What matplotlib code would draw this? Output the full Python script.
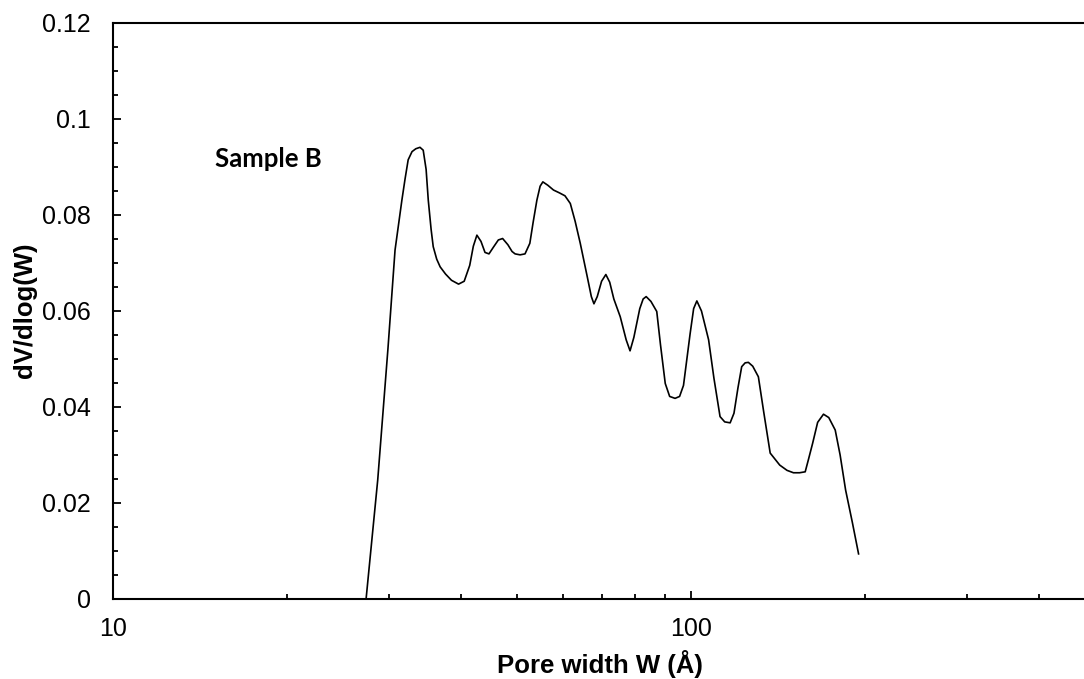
import matplotlib
matplotlib.use("Agg")
import matplotlib.pyplot as plt
from matplotlib.ticker import LogLocator, MultipleLocator, FuncFormatter, NullFormatter

# pore width (Angstrom) and dV/dlog(W)
pore_width = [13.7, 20.0, 25.0, 27.4, 28.7, 29.9, 30.75, 31.6, 32.0, 32.4, 32.9, 33.4, 33.96,
              34.4, 34.8, 35.1, 35.5, 35.8, 36.3, 36.8, 37.6, 38.5, 39.6, 40.5, 41.4,
              42.0, 42.6, 43.3, 44.0, 44.7, 45.5, 46.4, 47.2, 48.2, 49.0, 49.6, 50.6,
              51.6, 52.6, 53.3, 54.1, 54.8, 55.4, 56.5, 57.8, 59.2, 60.5, 61.8, 63.0,
              64.3, 66.1, 67.2, 67.9, 68.8, 70.0, 71.2, 72.3, 73.5, 75.4, 77.2, 78.4,
              79.6, 81.5, 82.6, 83.6, 85.2, 87.2, 88.5, 90.2, 91.8, 93.8, 95.5, 97.0,
              99.6, 101.0, 102.3, 104.2, 107.2, 109.5, 112.2, 114.3, 116.8, 118.6, 120.5,
              122.3, 124.0, 125.6, 127.8, 130.7, 133.5, 137.0, 142.3, 146.5, 150.3, 154.0,
              157.5, 159.5, 162.2, 165.5, 169.4, 173.0, 177.5, 181.0, 185.0, 190.0, 194.8]
dv_dlogw = [0.0, 0.0, 0.0, 0.0, 0.0248, 0.0523, 0.0727, 0.0831, 0.0875, 0.0915, 0.0932, 0.0938, 0.0941,
            0.0935, 0.0895, 0.0831, 0.0770, 0.0734, 0.0708, 0.0692, 0.0677, 0.0664, 0.0656, 0.0662, 0.0695,
            0.0735, 0.0758, 0.0745, 0.0722, 0.0719, 0.0733, 0.0748, 0.0751, 0.0738, 0.0724, 0.0719, 0.0717,
            0.0719, 0.0741, 0.0785, 0.0831, 0.0860, 0.0869, 0.0862, 0.0852, 0.0846, 0.0840, 0.0824, 0.0787,
            0.0741, 0.0672, 0.0630, 0.0615, 0.0630, 0.0662, 0.0676, 0.0660, 0.0625, 0.0588, 0.0540, 0.0517,
            0.0545, 0.0605, 0.0625, 0.0630, 0.0620, 0.0599, 0.0530, 0.0449, 0.0422, 0.0418, 0.0422, 0.0445,
            0.0553, 0.0605, 0.0621, 0.0600, 0.0540, 0.0460, 0.0380, 0.0369, 0.0367, 0.0387, 0.0440,
            0.0484, 0.0492, 0.0493, 0.0485, 0.0463, 0.0390, 0.0304, 0.0279, 0.0268, 0.0263, 0.0263,
            0.0265, 0.0290, 0.0324, 0.0368, 0.0385, 0.0378, 0.0352, 0.0300, 0.0227, 0.0160, 0.0094]

plt.rcParams['font.family'] = ['Liberation Sans', 'DejaVu Sans']

XMAX = 480.0
fig = plt.figure(figsize=(10.84, 6.79), dpi=100)
ax = fig.add_axes([113 / 1084, 80 / 679, 972 / 1084, 576 / 679])

ax.plot(pore_width, dv_dlogw, color='black', linewidth=1.2, solid_joinstyle='round')

ax.set_xscale('log')
ax.set_xlim(10, XMAX)
ax.set_ylim(0, 0.12)

ax.yaxis.set_major_locator(MultipleLocator(0.02))
ax.yaxis.set_minor_locator(MultipleLocator(0.005))
ax.yaxis.set_major_formatter(FuncFormatter(lambda v, p: '0' if abs(v) < 1e-9 else f'{v:.2f}'.rstrip('0')))
ax.xaxis.set_major_locator(LogLocator(base=10))
ax.xaxis.set_minor_locator(LogLocator(base=10, subs=range(2, 10)))
ax.xaxis.set_major_formatter(FuncFormatter(lambda v, p: f'{v:g}'))
ax.xaxis.set_minor_formatter(NullFormatter())

ax.tick_params(which='both', direction='in', labelsize=18, width=1.3)
ax.tick_params(which='major', length=5.5)
ax.tick_params(which='minor', length=3.5)
ax.tick_params(axis='y', which='major', pad=16)
ax.tick_params(axis='x', which='major', pad=13)

for s in ax.spines.values():
    s.set_linewidth(1.5)
ax.spines['right'].set_visible(False)

ax.set_xlabel('Pore width W (Å)', fontsize=18.5, fontweight='bold')
ax.xaxis.set_label_coords((600 - 113) / 972, -(650 - 599) / 576)
ax.set_ylabel('dV/dlog(W)', fontsize=18.5, fontweight='bold')
ax.yaxis.set_label_coords(-(113 - 37) / 972, (599 - 310) / 576)

fig.text(215 / 1084, (679 - 167) / 679, 'Sample B', fontsize=18.5, fontweight='bold',
         family=['Lato', 'DejaVu Sans'], va='baseline')

fig.savefig('out.png', dpi=100)
